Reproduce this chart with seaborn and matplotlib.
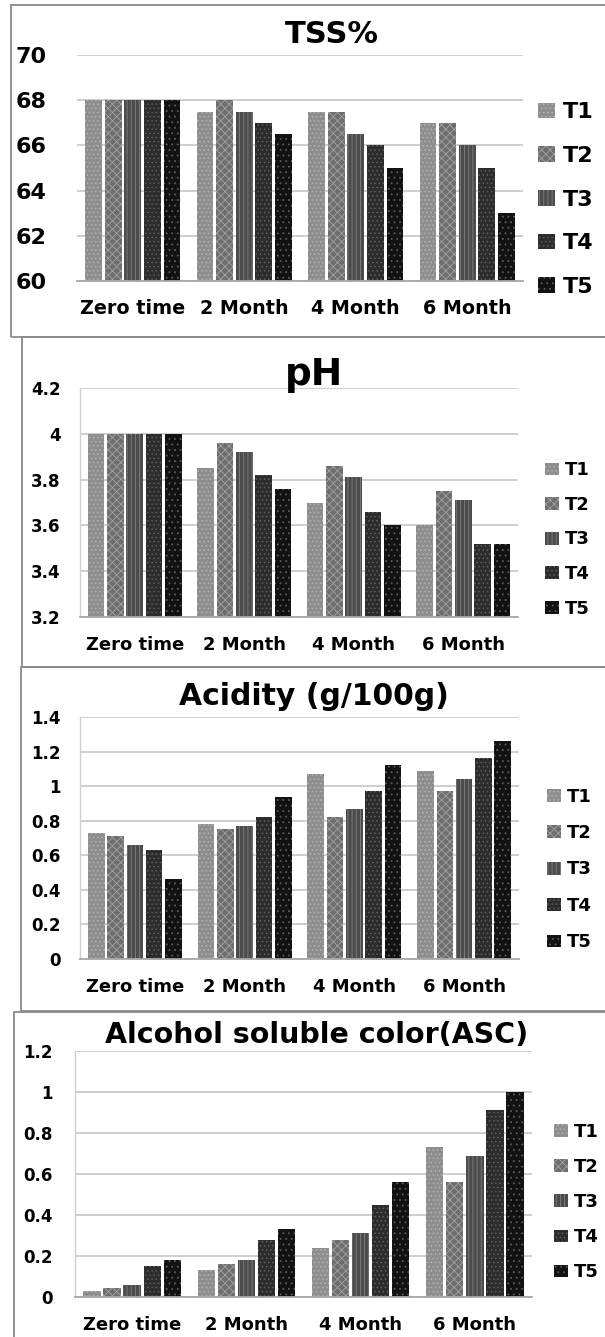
import matplotlib
matplotlib.use("Agg")
import matplotlib.pyplot as plt
import seaborn as sns
import pandas as pd
from matplotlib.patches import Rectangle

# ---------------- data ----------------
periods = ["Zero time", "2 Month", "4 Month", "6 Month"]
treatments = ["T1", "T2", "T3", "T4", "T5"]

# rows = treatments T1..T5, columns = periods
tss_values = [
    [68, 67.5, 67.5, 67],
    [68, 68, 67.5, 67],
    [68, 67.5, 66.5, 66],
    [68, 67, 66, 65],
    [68, 66.5, 65, 63],
]
ph_values = [
    [4.0, 3.85, 3.70, 3.60],
    [4.0, 3.96, 3.86, 3.75],
    [4.0, 3.92, 3.81, 3.71],
    [4.0, 3.82, 3.66, 3.52],
    [4.0, 3.76, 3.60, 3.52],
]
acidity_values = [
    [0.73, 0.78, 1.07, 1.09],
    [0.71, 0.75, 0.82, 0.97],
    [0.66, 0.77, 0.87, 1.04],
    [0.63, 0.82, 0.97, 1.16],
    [0.46, 0.94, 1.12, 1.26],
]
asc_values = [
    [0.03, 0.13, 0.24, 0.73],
    [0.045, 0.16, 0.28, 0.56],
    [0.06, 0.18, 0.31, 0.69],
    [0.15, 0.28, 0.45, 0.91],
    [0.18, 0.33, 0.56, 1.00],
]

tss_ticks = [60, 62, 64, 66, 68, 70]
ph_ticks = [3.2, 3.4, 3.6, 3.8, 4.0, 4.2]
acidity_ticks = [0, 0.2, 0.4, 0.6, 0.8, 1.0, 1.2, 1.4]
asc_ticks = [0, 0.2, 0.4, 0.6, 0.8, 1.0, 1.2]

titles = ["TSS%", "pH", "Acidity (g/100g)", "Alcohol soluble color(ASC)"]

# ---------------- style ----------------
face_colors = ["#8e8e8e", "#6e6e6e", "#4c4c4c", "#2c2c2c", "#121212"]
hatch_colors = ["#b4b4b4", "#a2a2a2", "#808080", "#5e5e5e", "#5a5a5a"]
hatches = ["....", "xxxx", "||||", "....", "..."]

plt.rcParams["font.family"] = ["DejaVu Sans"]
plt.rcParams["font.weight"] = "bold"
plt.rcParams["hatch.linewidth"] = 0.6

W, H = 605, 1337
fig = plt.figure(figsize=(W / 100, H / 100), dpi=100)


def fx(x):
    return x / W


def fy(y):
    return 1 - y / H


panels = [
    dict(values=tss_values, ticks=tss_ticks, ax=(77, 55, 523, 281), box=(11, 5, 612, 337),
         ytfs=16, ypad=22, xtfs=13.8, xpad=13, title_fs=22, title_xy=(332, 43),
         leg_fs=16, leg_xy=(538, 199.5), leg_sp=1.06, left_spine=False),
    dict(values=ph_values, ticks=ph_ticks, ax=(80, 388, 518, 617), box=(22, 337, 612, 667),
         ytfs=12, ypad=14, xtfs=13, xpad=14, title_fs=27, title_xy=(314, 385),
         leg_fs=13, leg_xy=(545, 539.5), leg_sp=0.92, left_spine=True),
    dict(values=acidity_values, ticks=acidity_ticks, ax=(80, 717, 519, 959), box=(21, 667, 612, 1011),
         ytfs=12, ypad=14, xtfs=13, xpad=14, title_fs=21.5, title_xy=(314, 705),
         leg_fs=13, leg_xy=(547, 869.5), leg_sp=1.02, left_spine=True),
    dict(values=asc_values, ticks=asc_ticks, ax=(75, 1051, 532, 1297), box=(14, 1012, 612, 1345),
         ytfs=12, ypad=16, xtfs=13, xpad=14, title_fs=20.5, title_xy=(317, 1043),
         leg_fs=13, leg_xy=(554, 1202), leg_sp=0.95, left_spine=True),
]

for p, title in zip(panels, titles):
    # panel frame
    bx0, by0, bx1, by1 = p["box"]
    fig.add_artist(Rectangle((fx(bx0), fy(by1)), (bx1 - bx0) / W, (by1 - by0) / H,
                             transform=fig.transFigure, fill=False,
                             edgecolor="#8a8a8a", lw=1.3))

    x0, y0, x1, y1 = p["ax"]
    ax = fig.add_axes([fx(x0), fy(y1), (x1 - x0) / W, (y1 - y0) / H])

    df = pd.DataFrame({
        "Period": [per for t in range(5) for per in periods],
        "Treatment": [treatments[t] for t in range(5) for _ in periods],
        "Value": [v for row in p["values"] for v in row],
    })
    sns.barplot(data=df, x="Period", y="Value", hue="Treatment",
                order=periods, hue_order=treatments,
                palette=face_colors, width=0.88, gap=0.14,
                saturation=1, ax=ax, legend=False)

    for i, cont in enumerate(ax.containers):
        for bar in cont:
            bar.set_hatch(hatches[i])
            bar.set_edgecolor(hatch_colors[i])
            bar.set_linewidth(0)

    ticks = p["ticks"]
    ax.set_ylim(ticks[0], ticks[-1])
    ax.set_yticks(ticks)
    ax.set_yticklabels([f"{t:g}" for t in ticks], fontsize=p["ytfs"], fontweight="bold")
    ax.tick_params(axis="y", length=0, pad=p["ypad"])
    ax.tick_params(axis="x", length=0, pad=p["xpad"], labelsize=p["xtfs"])
    for lab in ax.get_xticklabels():
        lab.set_fontweight("bold")
    ax.set_xlabel("")
    ax.set_ylabel("")

    ax.yaxis.grid(True, color="#c6c6c6", lw=1.2)
    ax.set_axisbelow(True)
    ax.spines["top"].set_visible(False)
    ax.spines["right"].set_visible(False)
    ax.spines["bottom"].set_color("#a8a8a8")
    ax.spines["bottom"].set_linewidth(1.3)
    if p["left_spine"]:
        ax.spines["left"].set_color("#cfcfcf")
        ax.spines["left"].set_linewidth(1.0)
    else:
        ax.spines["left"].set_visible(False)

    # title
    tx, ty = p["title_xy"]
    fig.text(fx(tx), fy(ty), title, ha="center", va="baseline",
             fontsize=p["title_fs"], fontweight="bold", color="black")

    # legend
    handles = [cont[0] for cont in ax.containers]
    lx, ly = p["leg_xy"]
    leg = ax.legend(handles, treatments, loc="center left",
                    bbox_to_anchor=(fx(lx), fy(ly)), bbox_transform=fig.transFigure,
                    frameon=False, borderpad=0, borderaxespad=0,
                    prop={"size": p["leg_fs"], "weight": "bold"},
                    handlelength=0.75, handleheight=0.7, handletextpad=0.35,
                    labelspacing=p["leg_sp"])

fig.savefig("out.png", dpi=100, facecolor="white")
